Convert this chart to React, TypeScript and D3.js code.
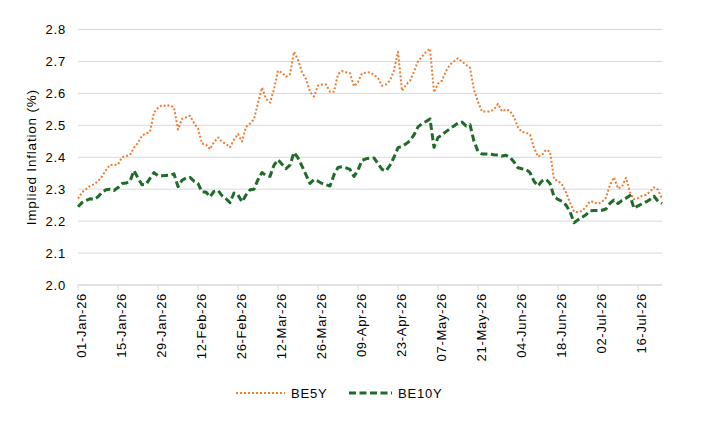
import React, { useEffect, useRef } from 'react';
import * as d3 from 'd3';

// Business-day observations, 01-Jan-26 onwards
const BE5Y = [
  2.27, 2.29, 2.30, 2.31, 2.315, 2.325, 2.34, 2.36, 2.376, 2.375,
  2.378, 2.40, 2.404, 2.407, 2.43, 2.445, 2.468, 2.474, 2.48, 2.54,
  2.555, 2.563, 2.56, 2.563, 2.555, 2.487, 2.52, 2.525, 2.53, 2.507,
  2.49, 2.443, 2.44, 2.425, 2.447, 2.462, 2.448, 2.442, 2.431, 2.455,
  2.473, 2.449, 2.495, 2.505, 2.519, 2.57, 2.618, 2.583, 2.571, 2.613,
  2.671, 2.665, 2.652, 2.66, 2.73, 2.705, 2.666, 2.645, 2.605, 2.59,
  2.625, 2.628, 2.628, 2.605, 2.605, 2.66, 2.67, 2.666, 2.663, 2.622,
  2.635, 2.663, 2.665, 2.666, 2.658, 2.648, 2.624, 2.628, 2.64, 2.672,
  2.73, 2.608, 2.627, 2.64, 2.668, 2.70, 2.715, 2.73, 2.74, 2.603,
  2.63, 2.64, 2.67, 2.69, 2.70, 2.71, 2.70, 2.69, 2.68, 2.61,
  2.574, 2.543, 2.543, 2.543, 2.55, 2.567, 2.544, 2.55, 2.545, 2.525,
  2.494, 2.479, 2.477, 2.471, 2.43, 2.402, 2.407, 2.423, 2.418, 2.331,
  2.326, 2.315, 2.29, 2.258, 2.23, 2.228, 2.232, 2.245, 2.262, 2.26,
  2.254, 2.26, 2.274, 2.314, 2.337, 2.302, 2.308, 2.336, 2.29, 2.268,
  2.272, 2.279, 2.282, 2.292, 2.306, 2.298, 2.27
];

const BE10Y = [
  2.245, 2.258, 2.265, 2.27, 2.268, 2.276, 2.29, 2.298, 2.30, 2.296,
  2.305, 2.318, 2.319, 2.325, 2.358, 2.335, 2.314, 2.315, 2.334, 2.352,
  2.342, 2.342, 2.343, 2.344, 2.348, 2.308, 2.328, 2.335, 2.337, 2.325,
  2.318, 2.291, 2.291, 2.276, 2.293, 2.296, 2.28, 2.27, 2.258, 2.288,
  2.282, 2.26, 2.282, 2.298, 2.30, 2.33, 2.352, 2.343, 2.34, 2.375,
  2.392, 2.378, 2.364, 2.375, 2.415, 2.398, 2.372, 2.345, 2.318, 2.33,
  2.325, 2.318, 2.314, 2.31, 2.345, 2.368, 2.37, 2.367, 2.362, 2.34,
  2.36, 2.39, 2.395, 2.397, 2.398, 2.38, 2.362, 2.357, 2.375, 2.40,
  2.43, 2.434, 2.442, 2.452, 2.47, 2.495, 2.505, 2.512, 2.52, 2.431,
  2.462, 2.47, 2.48, 2.49, 2.498, 2.507, 2.51, 2.498, 2.502, 2.45,
  2.418, 2.41, 2.41, 2.41, 2.408, 2.407, 2.404, 2.406, 2.40, 2.385,
  2.367, 2.364, 2.362, 2.352, 2.325, 2.31, 2.326, 2.331, 2.318, 2.277,
  2.268, 2.262, 2.25, 2.23, 2.195, 2.204, 2.212, 2.22, 2.232, 2.233,
  2.233, 2.234, 2.238, 2.256, 2.266, 2.255, 2.265, 2.272, 2.28, 2.24,
  2.248, 2.254, 2.26, 2.268, 2.278, 2.262, 2.255
];

const X_TICKS = [
  '01-Jan-26', '15-Jan-26', '29-Jan-26', '12-Feb-26', '26-Feb-26',
  '12-Mar-26', '26-Mar-26', '09-Apr-26', '23-Apr-26', '07-May-26',
  '21-May-26', '04-Jun-26', '18-Jun-26', '02-Jul-26', '16-Jul-26'
];

const Y_TICKS = [2.0, 2.1, 2.2, 2.3, 2.4, 2.5, 2.6, 2.7, 2.8];

const SERIES = [
  { name: 'BE5Y', values: BE5Y, color: '#ED7D31', width: 2, dash: '2 2' },
  { name: 'BE10Y', values: BE10Y, color: '#1F6B2A', width: 3, dash: '7 3.5' }
];

const FONT = '"Liberation Sans", Arial, sans-serif';

const App: React.FC = () => {
  const svgRef = useRef<SVGSVGElement>(null);

  useEffect(() => {
    if (!svgRef.current) return;
    const svg = d3.select(svgRef.current);
    svg.selectAll('*').remove();

    const width = 710;
    const height = 433;
    const margin = { top: 29.5, right: 48, bottom: 148, left: 78 };

    // business-day categories
    const fmt = d3.timeFormat('%d-%b-%y');
    const days = d3.timeDay
      .range(new Date(2026, 0, 1), new Date(2026, 6, 31))
      .filter(d => d.getDay() !== 0 && d.getDay() !== 6)
      .slice(0, BE5Y.length)
      .map(fmt);

    const x = d3.scalePoint<string>()
      .domain(days)
      .range([margin.left, width - margin.right]);

    const y = d3.scaleLinear()
      .domain([2.0, 2.8])
      .range([height - margin.bottom, margin.top]);

    svg.attr('width', width).attr('height', height);

    // gridlines
    svg.append('g')
      .selectAll('line')
      .data(Y_TICKS)
      .enter()
      .append('line')
      .attr('x1', margin.left)
      .attr('x2', width - margin.right)
      .attr('y1', d => y(d))
      .attr('y2', d => y(d))
      .attr('stroke', '#d9d9d9')
      .attr('stroke-width', d => (d === 2.0 ? 1.5 : 1));

    // x tick marks
    svg.append('g')
      .selectAll('line')
      .data(X_TICKS)
      .enter()
      .append('line')
      .attr('x1', d => x(d)!)
      .attr('x2', d => x(d)!)
      .attr('y1', y(2.0))
      .attr('y2', y(2.0) + 5)
      .attr('stroke', '#d9d9d9')
      .attr('stroke-width', 1);

    // y labels
    svg.append('g')
      .selectAll('text')
      .data(Y_TICKS)
      .enter()
      .append('text')
      .attr('x', 66)
      .attr('y', d => y(d))
      .attr('dy', '0.35em')
      .attr('text-anchor', 'end')
      .style('font-family', FONT)
      .style('font-size', '13px')
      .style('letter-spacing', '0.8px')
      .style('fill', '#000')
      .text(d => d3.format('.1f')(d));

    // x labels
    svg.append('g')
      .selectAll('text')
      .data(X_TICKS)
      .enter()
      .append('text')
      .attr('transform', d => `translate(${x(d)! + 3.5}, ${y(2.0) + 8}) rotate(-90)`)
      .attr('dy', '0.35em')
      .attr('text-anchor', 'end')
      .style('font-family', FONT)
      .style('font-size', '13px')
      .style('letter-spacing', '0.7px')
      .style('fill', '#000')
      .text(d => d);

    // axis title
    svg.append('text')
      .attr('transform', `translate(31, ${(y(2.0) + y(2.8)) / 2}) rotate(-90)`)
      .attr('dy', '0.35em')
      .attr('text-anchor', 'middle')
      .style('font-family', FONT)
      .style('font-size', '13.5px')
      .style('letter-spacing', '0.8px')
      .style('fill', '#000')
      .text('Implied Inflation (%)');

    // lines
    const line = d3.line<number>()
      .x((_, i) => x(days[i])!)
      .y(d => y(d));

    SERIES.forEach(s => {
      svg.append('path')
        .datum(s.values)
        .attr('d', line)
        .attr('fill', 'none')
        .attr('stroke', s.color)
        .attr('stroke-width', s.width)
        .attr('stroke-dasharray', s.dash)
        .attr('stroke-linejoin', 'round');
    });

    // legend
    const legendY = 393;
    const legendItems = [
      { x0: 236, x1: 285, tx: 291 },
      { x0: 349, x1: 392, tx: 398 }
    ];
    SERIES.forEach((s, i) => {
      const li = legendItems[i];
      svg.append('line')
        .attr('x1', li.x0)
        .attr('x2', li.x1)
        .attr('y1', legendY)
        .attr('y2', legendY)
        .attr('stroke', s.color)
        .attr('stroke-width', s.width)
        .attr('stroke-dasharray', s.dash);
      svg.append('text')
        .attr('x', li.tx)
        .attr('y', legendY)
        .attr('dy', '0.35em')
        .style('font-family', FONT)
        .style('font-size', '13px')
        .style('letter-spacing', '0.8px')
        .style('fill', '#000')
        .text(s.name);
    });
  }, []);

  return (
    <div style={{ position: 'absolute', left: 0, top: 0, width: 710, height: 433, background: '#fff' }}>
      <svg ref={svgRef} style={{ display: 'block' }} />
    </div>
  );
};

export default App;
